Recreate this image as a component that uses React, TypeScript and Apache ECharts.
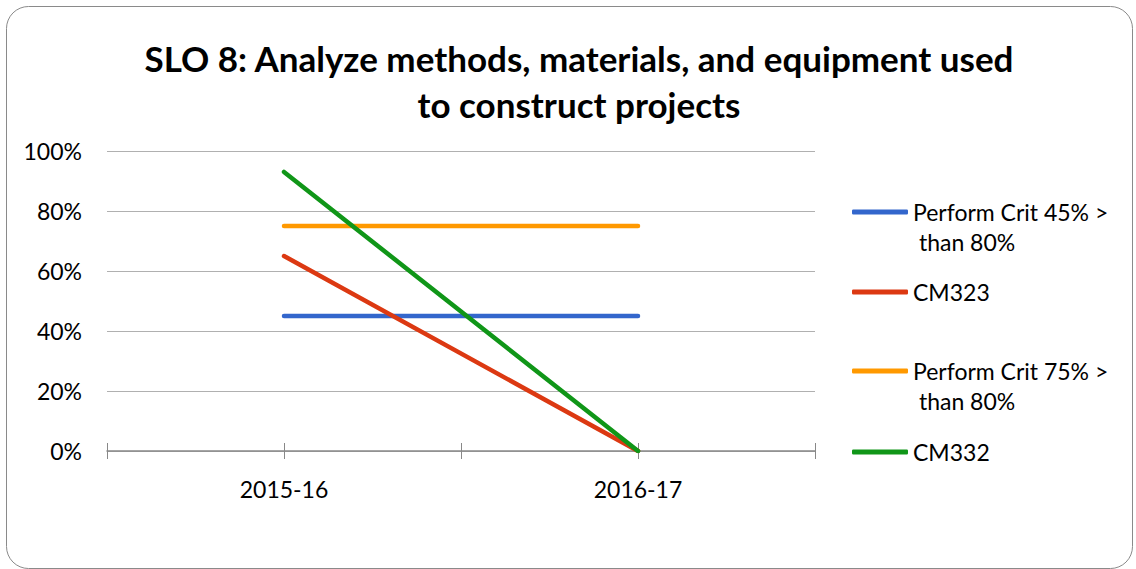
import React, { useEffect, useRef } from "react";
import * as echarts from "echarts";

const categories = ["2015-16", "2016-17"];
const seriesNames = ["Perform Crit 45% >\n than 80%", "CM323", "Perform Crit 75% >\n than 80%", "CM332"];
const crit45 = [45, 45];
const cm323 = [65, 0];
const crit75 = [75, 75];
const cm332 = [93, 0];
const colors = ["#3366CC", "#DC3912", "#FF9900", "#109618"];
const yTicks = { min: 0, max: 100, interval: 20 };

export default function App() {
  const ref = useRef<HTMLDivElement>(null);
  useEffect(() => {
    const chart = echarts.init(ref.current!, null, { renderer: "svg" });
    const font = "Lato, 'Open Sans', sans-serif";
    const values = [crit45, cm323, crit75, cm332];
    const legendCenters = [212, 292, 371, 452];
    const secondLines: any[] = [];
    seriesNames.forEach((n, i) => {
      const parts = n.split("\n");
      if (parts.length > 1) {
        secondLines.push({
          type: "text",
          left: 913,
          top: legendCenters[i] + 32 - 14,
          style: { text: parts[1], fontFamily: font, fontSize: 23, fill: "#000" },
          silent: true,
        });
      }
    });
    chart.setOption({
      animation: false,
      textStyle: { fontFamily: font },
      title: {
        text: "SLO 8: Analyze methods, materials, and equipment used\nto construct projects",
        left: 574,
        textAlign: "center",
        top: 30,
        textStyle: { fontFamily: font, fontWeight: "bold", fontSize: 35, lineHeight: 46, color: "#000" },
      },
      graphic: [
        {
          type: "rect",
          shape: { x: 6.5, y: 6.5, width: 1126, height: 562, r: 22 },
          style: { fill: "none", stroke: "#8a8a8a", lineWidth: 1 },
          silent: true,
        },
        ...secondLines,
      ],
      grid: { left: 107, right: 321, top: 151, bottom: 118 },
      legend: seriesNames.map((n, i) => ({
        data: [n],
        left: 852,
        top: legendCenters[i] - 14,
        padding: 0,
        orient: "vertical",
        icon: "roundRect",
        itemWidth: 56,
        itemHeight: 5,
        selectedMode: false,
        formatter: (name: string) => name.split("\n")[0],
        textStyle: {
          fontFamily: font,
          fontSize: 23,
          color: "#000",
          lineHeight: 28,
        },
      })),
      xAxis: [
        {
          type: "category",
          data: categories,
          boundaryGap: true,
          axisLine: { lineStyle: { color: "#888", width: 1.5 } },
          axisTick: { show: false },
          axisLabel: { fontFamily: font, fontSize: 23, color: "#000", margin: 26 },
        },
        {
          type: "category",
          data: ["", "", "", ""],
          position: "bottom",
          boundaryGap: true,
          axisLine: { show: false },
          axisTick: { show: true, length: 8, lineStyle: { color: "#888" } },
          axisLabel: { show: false },
        },
        {
          type: "category",
          data: ["", "", "", ""],
          position: "bottom",
          boundaryGap: true,
          axisLine: { show: false },
          axisTick: { show: true, inside: true, length: 8, lineStyle: { color: "#888" } },
          axisLabel: { show: false },
        },
      ],
      yAxis: {
        type: "value",
        min: yTicks.min,
        max: yTicks.max,
        interval: yTicks.interval,
        axisLine: { show: false },
        axisTick: { show: false },
        axisLabel: { formatter: "{value}%", fontFamily: font, fontSize: 23, color: "#000", margin: 25 },
        splitLine: { lineStyle: { color: "#B0B0B0", width: 1 } },
      },
      series: seriesNames.map((n, i) => ({
        name: n,
        type: "line",
        data: values[i],
        xAxisIndex: 0,
        symbol: "none",
        lineStyle: { color: colors[i], width: 4.5, cap: "round", join: "round" },
        itemStyle: { color: colors[i] },
      })),
    });
    return () => chart.dispose();
  }, []);
  return (
    <div style={{ position: "fixed", left: 0, top: 0, width: 1136, height: 569, background: "#fff" }}>
      <div ref={ref} style={{ width: 1136, height: 569 }} />
    </div>
  );
}
